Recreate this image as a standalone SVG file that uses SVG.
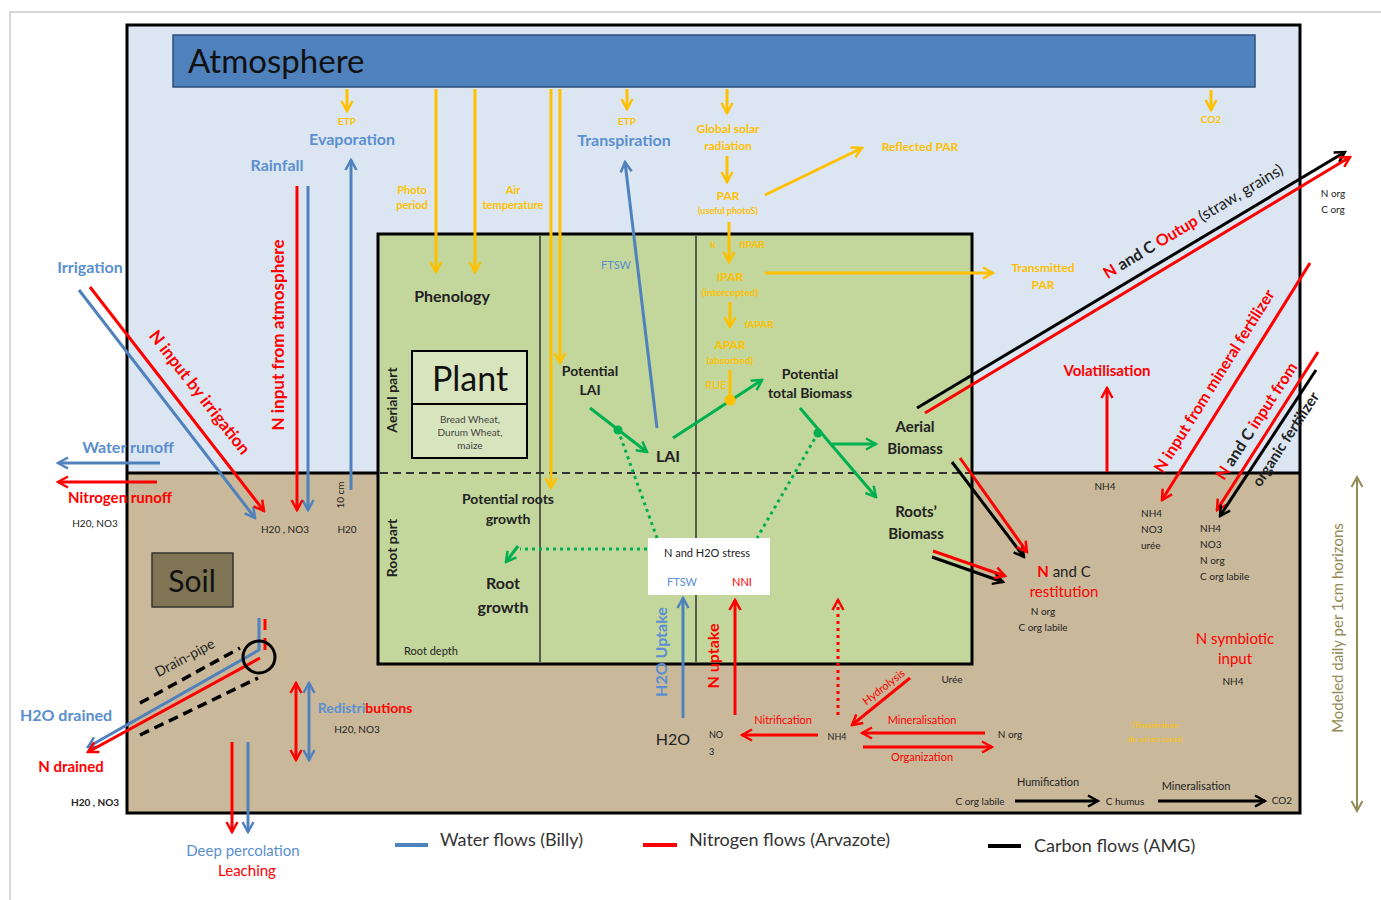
<svg xmlns="http://www.w3.org/2000/svg" width="1381" height="900" viewBox="0 0 1381 900">
<style>
text{font-family:Lato,"Liberation Sans",sans-serif}
.y{fill:#ffc000;font-size:11px;font-weight:bold;text-anchor:middle}
.yl{fill:#ffc000;font-size:12px;font-weight:bold;text-anchor:middle}
.b{fill:#5b8fd0;font-size:16px;font-weight:bold;text-anchor:middle}
.r{fill:#ff0000;font-size:15px;font-weight:bold;text-anchor:middle}
.k{fill:#222;font-size:15px;font-weight:bold;text-anchor:middle}
.s{fill:#222;font-size:10px;text-anchor:middle}
.sl{fill:#222;font-size:10px}
.lg{fill:#333;font-size:18px}
.ly{stroke:#ffc000;stroke-width:3;fill:none}
.lb{stroke:#4f81bd;stroke-width:3;fill:none}
.lr{stroke:#ff0000;stroke-width:3;fill:none}
.lk{stroke:#000;stroke-width:3;fill:none}
.lg2{stroke:#00b050;stroke-width:3;fill:none}
.dot{stroke-dasharray:3,4}
</style>
<defs>
<marker id="ay" viewBox="0 0 14 14" refX="12" refY="7" markerWidth="14" markerHeight="14" markerUnits="userSpaceOnUse" orient="auto-start-reverse"><path d="M2,1.5 L12,7 L2,12.5" fill="none" stroke="#ffc000" stroke-width="2.5"/></marker>
<marker id="ab" viewBox="0 0 14 14" refX="12" refY="7" markerWidth="14" markerHeight="14" markerUnits="userSpaceOnUse" orient="auto-start-reverse"><path d="M2,1.5 L12,7 L2,12.5" fill="none" stroke="#4f81bd" stroke-width="2.5"/></marker>
<marker id="ar" viewBox="0 0 14 14" refX="12" refY="7" markerWidth="14" markerHeight="14" markerUnits="userSpaceOnUse" orient="auto-start-reverse"><path d="M2,1.5 L12,7 L2,12.5" fill="none" stroke="#ff0000" stroke-width="2.5"/></marker>
<marker id="ak" viewBox="0 0 14 14" refX="12" refY="7" markerWidth="14" markerHeight="14" markerUnits="userSpaceOnUse" orient="auto-start-reverse"><path d="M2,1.5 L12,7 L2,12.5" fill="none" stroke="#000" stroke-width="2.5"/></marker>
<marker id="ag" viewBox="0 0 14 14" refX="12" refY="7" markerWidth="14" markerHeight="14" markerUnits="userSpaceOnUse" orient="auto-start-reverse"><path d="M2,1.5 L12,7 L2,12.5" fill="none" stroke="#00b050" stroke-width="2.5"/></marker>
<marker id="an" viewBox="0 0 14 14" refX="12" refY="7" markerWidth="14" markerHeight="14" markerUnits="userSpaceOnUse" orient="auto-start-reverse"><path d="M2,1.5 L12,7 L2,12.5" fill="none" stroke="#948a54" stroke-width="2"/></marker>
</defs>
<rect width="1381" height="900" fill="#fff"/>
<path d="M10,900 V12 H1381" fill="none" stroke="#ccc" stroke-width="1.5"/>

<g id="atmosphere-zone">
<rect x="127" y="25" width="1173" height="448" fill="#dce6f2"/>
</g>
<g id="soil-zone">
<rect x="127" y="473" width="1173" height="340" fill="#c9b99a"/>
</g>
<rect x="127" y="25" width="1173" height="788" fill="none" stroke="#000" stroke-width="3"/>
<line x1="127" y1="473" x2="1300" y2="473" stroke="#000" stroke-width="3"/>

<g id="atmosphere">
<rect x="173" y="35" width="1082" height="52" fill="#4f81bd" stroke="#2f4f7a" stroke-width="1.5"/>
<text x="188" y="73" style="font-size:33px;fill:#111">Atmosphere</text>
</g>

<g id="plant-zone">
<rect x="378" y="234" width="594" height="430" fill="#c3d69b" stroke="#000" stroke-width="3"/>
<line x1="540" y1="236" x2="540" y2="662" stroke="#333" stroke-width="1.5"/>
<line x1="696" y1="236" x2="696" y2="662" stroke="#333" stroke-width="1.5"/>
<line x1="380" y1="473" x2="970" y2="473" stroke="#333" stroke-width="2" stroke-dasharray="8,5"/>
<text transform="translate(397,400) rotate(-90)" class="k" style="font-size:14px">Aerial part</text>
<text transform="translate(397,548) rotate(-90)" class="k" style="font-size:14px">Root part</text>
<text x="404" y="655" class="sl" style="font-size:11px">Root depth</text>
</g>

<g id="plant">
<rect x="412" y="351" width="115" height="107" fill="#d7e4bd" stroke="#000" stroke-width="2"/>
<line x1="412" y1="404" x2="527" y2="404" stroke="#000" stroke-width="2"/>
<text x="470" y="391" style="font-size:34px;fill:#111;text-anchor:middle">Plant</text>
<text x="470" y="423" class="s" style="fill:#444">Bread Wheat,</text>
<text x="470" y="436" class="s" style="fill:#444">Durum Wheat,</text>
<text x="470" y="449" class="s" style="fill:#444">maize</text>
</g>

<g id="soil">
<rect x="152" y="553" width="81" height="54" fill="#7f7555" stroke="#333" stroke-width="1.5"/>
<text x="192" y="592" style="font-size:30px;fill:#111;text-anchor:middle">Soil</text>
</g>

<g id="stress">
<rect x="648" y="538" width="122" height="57" fill="#fff"/>
<text x="707" y="557" class="s" style="font-size:11px">N and H2O stress</text>
<text x="682" y="586" class="s" style="fill:#5b8fd0;font-size:11px">FTSW</text>
<text x="742" y="586" class="s" style="fill:#ff0000;font-size:11px">NNI</text>
</g>

<g id="connectors">
<line x1="347" y1="89" x2="347" y2="111" class="ly" marker-end="url(#ay)"/>
<line x1="436" y1="89" x2="436" y2="272" class="ly" marker-end="url(#ay)"/>
<line x1="475" y1="89" x2="475" y2="272" class="ly" marker-end="url(#ay)"/>
<line x1="551" y1="89" x2="551" y2="488" class="ly" marker-end="url(#ay)"/>
<line x1="560" y1="89" x2="560" y2="363" class="ly" marker-end="url(#ay)"/>
<line x1="627" y1="89" x2="627" y2="109" class="ly" marker-end="url(#ay)"/>
<line x1="727" y1="89" x2="727" y2="113" class="ly" marker-end="url(#ay)"/>
<line x1="727" y1="156" x2="727" y2="182" class="ly" marker-end="url(#ay)"/>
<line x1="765" y1="195" x2="862" y2="148" class="ly" marker-end="url(#ay)"/>
<line x1="729" y1="222" x2="729" y2="262" class="ly" marker-end="url(#ay)"/>
<line x1="765" y1="273" x2="993" y2="273" class="ly" marker-end="url(#ay)"/>
<line x1="730" y1="302" x2="730" y2="327" class="ly" marker-end="url(#ay)"/>
<line x1="730" y1="370" x2="730" y2="400" class="ly"/>
<line x1="1211" y1="90" x2="1211" y2="110" class="ly" marker-end="url(#ay)"/>
<line x1="351" y1="490" x2="351" y2="160" class="lb" marker-end="url(#ab)"/>
<line x1="308" y1="186" x2="308" y2="510" class="lb" marker-end="url(#ab)"/>
<line x1="657" y1="428" x2="625" y2="162" class="lb" marker-end="url(#ab)"/>
<line x1="79" y1="290" x2="255" y2="518" class="lb" marker-end="url(#ab)"/>
<line x1="160" y1="463" x2="58" y2="463" class="lb" marker-end="url(#ab)"/>
<polyline points="259,618 259,650 88,747" class="lb" marker-end="url(#ab)"/>
<line x1="309" y1="683" x2="309" y2="760" class="lb" marker-start="url(#ab)" marker-end="url(#ab)"/>
<line x1="248" y1="742" x2="248" y2="832" class="lb" marker-end="url(#ab)"/>
<line x1="683" y1="718" x2="683" y2="598" class="lb" marker-end="url(#ab)"/>
<line x1="297" y1="186" x2="297" y2="510" class="lr" marker-end="url(#ar)"/>
<line x1="90" y1="287" x2="264" y2="511" class="lr" marker-end="url(#ar)"/>
<line x1="157" y1="482" x2="58" y2="482" class="lr" marker-end="url(#ar)"/>
<line x1="265" y1="619" x2="265" y2="630" class="lr"/>
<line x1="265" y1="638" x2="265" y2="650" class="lr"/>
<line x1="260" y1="658" x2="88" y2="752" class="lr" marker-end="url(#ar)"/>
<line x1="296" y1="683" x2="296" y2="760" class="lr" marker-start="url(#ar)" marker-end="url(#ar)"/>
<line x1="232" y1="742" x2="232" y2="832" class="lr" marker-end="url(#ar)"/>
<line x1="735" y1="715" x2="735" y2="600" class="lr" marker-end="url(#ar)"/>
<line x1="818" y1="735" x2="742" y2="735" class="lr" marker-end="url(#ar)"/>
<line x1="838" y1="715" x2="838" y2="600" class="lr dot" marker-end="url(#ar)"/>
<line x1="910" y1="678" x2="852" y2="725" class="lr" marker-end="url(#ar)"/>
<line x1="985" y1="733" x2="862" y2="733" class="lr" marker-end="url(#ar)"/>
<line x1="863" y1="747" x2="992" y2="747" class="lr" marker-end="url(#ar)"/>
<line x1="917" y1="408" x2="1345" y2="152" class="lk" marker-end="url(#ak)"/>
<line x1="925" y1="413" x2="1350" y2="157" class="lr" marker-end="url(#ar)"/>
<line x1="952" y1="462" x2="1024" y2="557" class="lk" marker-end="url(#ak)"/>
<line x1="960" y1="458" x2="1027" y2="552" class="lr" marker-end="url(#ar)"/>
<line x1="932" y1="557" x2="1003" y2="582" class="lk" marker-end="url(#ak)"/>
<line x1="933" y1="551" x2="1005" y2="576" class="lr" marker-end="url(#ar)"/>
<line x1="1107" y1="472" x2="1107" y2="388" class="lr" marker-end="url(#ar)"/>
<line x1="1310" y1="263" x2="1162" y2="500" class="lr" marker-end="url(#ar)"/>
<line x1="1318" y1="352" x2="1217" y2="510" class="lr" marker-end="url(#ar)"/>
<line x1="1316" y1="370" x2="1220" y2="516" class="lk" marker-end="url(#ak)"/>
<line x1="1015" y1="801" x2="1098" y2="801" class="lk" stroke-width="2.5" marker-end="url(#ak)"/>
<line x1="1158" y1="801" x2="1265" y2="801" class="lk" stroke-width="2.5" marker-end="url(#ak)"/>
<line x1="590" y1="408" x2="647" y2="452" class="lg2" marker-end="url(#ag)"/>
<line x1="673" y1="438" x2="762" y2="380" class="lg2" marker-end="url(#ag)"/>
<line x1="800" y1="408" x2="876" y2="497" class="lg2" marker-end="url(#ag)"/>
<line x1="832" y1="444" x2="876" y2="444" class="lg2" marker-end="url(#ag)"/>
<line x1="618" y1="430" x2="657" y2="538" class="lg2 dot"/>
<line x1="818" y1="433" x2="757" y2="538" class="lg2 dot"/>
<line x1="647" y1="549" x2="520" y2="549" class="lg2 dot"/>
<line x1="518" y1="546" x2="506" y2="562" class="lg2" marker-end="url(#ag)"/>
<circle cx="618" cy="430" r="4.5" fill="#00b050"/>
<circle cx="818" cy="433" r="4.5" fill="#00b050"/>
<circle cx="730" cy="400" r="5.5" fill="#ffc000"/>
<line x1="140" y1="703" x2="240" y2="648" stroke="#000" stroke-width="3.5" stroke-dasharray="10,6"/>
<line x1="140" y1="735" x2="258" y2="678" stroke="#000" stroke-width="3.5" stroke-dasharray="10,6"/>
<circle cx="259" cy="657" r="16" fill="none" stroke="#000" stroke-width="3"/>
<line x1="1357" y1="477" x2="1357" y2="811" stroke="#948a54" stroke-width="2" marker-start="url(#an)" marker-end="url(#an)"/>
<line x1="395" y1="845" x2="428" y2="845" stroke="#4f81bd" stroke-width="4"/>
<line x1="643" y1="845" x2="677" y2="845" stroke="#ff0000" stroke-width="4"/>
<line x1="988" y1="846" x2="1021" y2="846" stroke="#000" stroke-width="4"/>
</g>

<g id="labels-atmosphere">
<text x="347" y="125" class="y" style="font-size:10px">ETP</text>
<text x="352" y="145" class="b">Evaporation</text>
<text x="277" y="171" class="b">Rainfall</text>
<text x="412" y="194" class="y">Photo</text>
<text x="412" y="209" class="y">period</text>
<text x="513" y="194" class="y">Air</text>
<text x="513" y="209" class="y">temperature</text>
<text x="627" y="125" class="y" style="font-size:10px">ETP</text>
<text x="624" y="146" class="b">Transpiration</text>
<text x="728" y="133" class="yl">Global solar</text>
<text x="728" y="150" class="yl">radiation</text>
<text x="728" y="200" class="yl">PAR</text>
<text x="728" y="214" class="y" style="font-size:9px">(useful photoS)</text>
<text x="920" y="151" class="yl">Reflected PAR</text>
<text x="1043" y="272" class="yl">Transmitted</text>
<text x="1043" y="289" class="yl">PAR</text>
<text x="1211" y="123" class="y" style="font-size:10px">CO2</text>
<text transform="translate(284,335) rotate(-90)" class="r" style="font-size:17px">N input from atmosphere</text>
<text transform="translate(344,495) rotate(-90)" class="s">10 cm</text>
<text x="90" y="273" class="b">Irrigation</text>
<text transform="translate(195,396) rotate(52)" class="r" style="font-size:17px">N input by irrigation</text>
<text x="128" y="453" class="b">Water runoff</text>
<text x="120" y="503" class="r">Nitrogen runoff</text>
<text x="95" y="527" class="s">H20, NO3</text>
<text x="285" y="533" class="s">H20 , NO3</text>
<text x="347" y="533" class="s">H20</text>
</g>

<g id="labels-plant">
<text x="452" y="302" class="k" style="font-size:16px">Phenology</text>
<text x="590" y="376" class="k" style="font-size:14px">Potential</text>
<text x="590" y="395" class="k" style="font-size:14px">LAI</text>
<text x="668" y="462" class="k" style="font-size:16px">LAI</text>
<text x="616" y="269" class="s" style="fill:#5b8fd0;font-size:11px">FTSW</text>
<text x="713" y="248" class="y" style="font-size:10px">k</text>
<text x="752" y="248" class="y" style="font-size:10px">fIPAR</text>
<text x="730" y="281" class="yl">IPAR</text>
<text x="730" y="296" class="y" style="font-size:10px">(intercepted)</text>
<text x="759" y="328" class="y" style="font-size:10px">fAPAR</text>
<text x="730" y="349" class="yl">APAR</text>
<text x="730" y="364" class="y" style="font-size:10px">(absorbed)</text>
<text x="716" y="389" class="y" style="font-size:11px;font-weight:normal">RUE</text>
<text x="810" y="379" class="k" style="font-size:14px">Potential</text>
<text x="810" y="398" class="k" style="font-size:14px">total Biomass</text>
<text x="915" y="432" class="k">Aerial</text>
<text x="915" y="454" class="k">Biomass</text>
<text x="916" y="517" class="k">Roots’</text>
<text x="916" y="539" class="k">Biomass</text>
<text x="508" y="504" class="k" style="font-size:14px">Potential roots</text>
<text x="508" y="524" class="k" style="font-size:14px">growth</text>
<text x="503" y="589" class="k" style="font-size:16px">Root</text>
<text x="503" y="613" class="k" style="font-size:16px">growth</text>
<text transform="translate(667,652) rotate(-90)" class="b">H2O Uptake</text>
<text transform="translate(719,656) rotate(-90)" class="r" style="font-size:16px">N uptake</text>
</g>

<g id="labels-right">
<text transform="translate(1196,226) rotate(-31)" class="k" style="font-size:16px"><tspan fill="#ff0000">N</tspan> and C <tspan fill="#ff0000">Outup</tspan> <tspan style="font-weight:normal">(straw, grains)</tspan></text>
<text x="1333" y="197" class="s">N org</text>
<text x="1333" y="213" class="s">C org</text>
<text x="1107" y="376" class="r">Volatilisation</text>
<text x="1105" y="490" class="s">NH4</text>
<text transform="translate(1219,384) rotate(-58)" class="r" style="font-size:16px">N input from mineral fertilizer</text>
<text transform="translate(1261,424) rotate(-57)" class="r" style="font-size:16px">N <tspan fill="#222">and C</tspan> input from</text>
<text transform="translate(1290,442) rotate(-57)" class="k" style="font-size:15px">organic fertilizer</text>
<text x="1141" y="517" class="sl">NH4</text>
<text x="1141" y="533" class="sl">NO3</text>
<text x="1141" y="549" class="sl">urée</text>
<text x="1200" y="532" class="sl">NH4</text>
<text x="1200" y="548" class="sl">NO3</text>
<text x="1200" y="564" class="sl">N org</text>
<text x="1200" y="580" class="sl">C org labile</text>
<text x="1064" y="577" class="k" style="font-size:15px;font-weight:normal"><tspan fill="#ff0000" font-weight="bold">N</tspan> and C</text>
<text x="1064" y="597" class="r" style="font-weight:normal">restitution</text>
<text x="1043" y="615" class="s">N org</text>
<text x="1043" y="631" class="s">C org labile</text>
<text x="1235" y="644" class="r" style="font-weight:normal">N  symbiotic</text>
<text x="1235" y="664" class="r" style="font-weight:normal">input</text>
<text x="1233" y="685" class="s">NH4</text>
<text transform="translate(1343,628) rotate(-90)" style="font-size:15px;fill:#948a54;text-anchor:middle">Modeled daily per 1cm horizons</text>
</g>

<g id="labels-soil">
<text x="673" y="745" class="k" style="font-size:16px;font-weight:normal">H2O</text>
<text x="709" y="738" class="sl" style="font-size:9px">NO</text>
<text x="709" y="755" class="sl" style="font-size:9px">3</text>
<text x="783" y="724" class="r" style="font-size:11px;font-weight:normal">Nitrification</text>
<text x="837" y="740" class="s" style="font-size:9px">NH4</text>
<text transform="translate(886,690) rotate(-38)" class="r" style="font-size:11px;font-weight:normal">Hydrolysis</text>
<text x="952" y="683" class="s">Urée</text>
<text x="922" y="724" class="r" style="font-size:11px;font-weight:normal">Mineralisation</text>
<text x="922" y="761" class="r" style="font-size:11px;font-weight:normal">Organization</text>
<text x="1010" y="738" class="s">N org</text>
<text x="1155" y="728" class="y" style="font-size:8px;font-weight:normal">(Température</text>
<text x="1155" y="742" class="y" style="font-size:8px;font-weight:normal">du sol en cours)</text>
<text x="1048" y="786" class="s" style="font-size:11px">Humification</text>
<text x="980" y="805" class="s">C org labile</text>
<text x="1125" y="805" class="s">C humus</text>
<text x="1196" y="790" class="s" style="font-size:11px">Mineralisation</text>
<text x="1282" y="804" class="s">CO2</text>
<text transform="translate(187,662) rotate(-28)" style="font-size:14px;fill:#222;text-anchor:middle">Drain-pipe</text>
<text x="66" y="721" class="b">H2O drained</text>
<text x="71" y="772" class="r">N drained</text>
<text x="95" y="806" class="s" style="font-weight:bold">H20 , NO3</text>
<text x="365" y="713" class="b" style="font-size:14px"><tspan>Redistri</tspan><tspan fill="#ff0000">butions</tspan></text>
<text x="357" y="733" class="s">H20, NO3</text>
<text x="243" y="856" class="b" style="font-size:15px;font-weight:normal">Deep percolation</text>
<text x="247" y="876" class="r" style="font-weight:normal">Leaching</text>
</g>

<g id="legend">
<text x="440" y="846" class="lg">Water flows (Billy)</text>
<text x="689" y="846" class="lg">Nitrogen flows (Arvazote)</text>
<text x="1034" y="852" class="lg">Carbon flows (AMG)</text>
</g>
</svg>
